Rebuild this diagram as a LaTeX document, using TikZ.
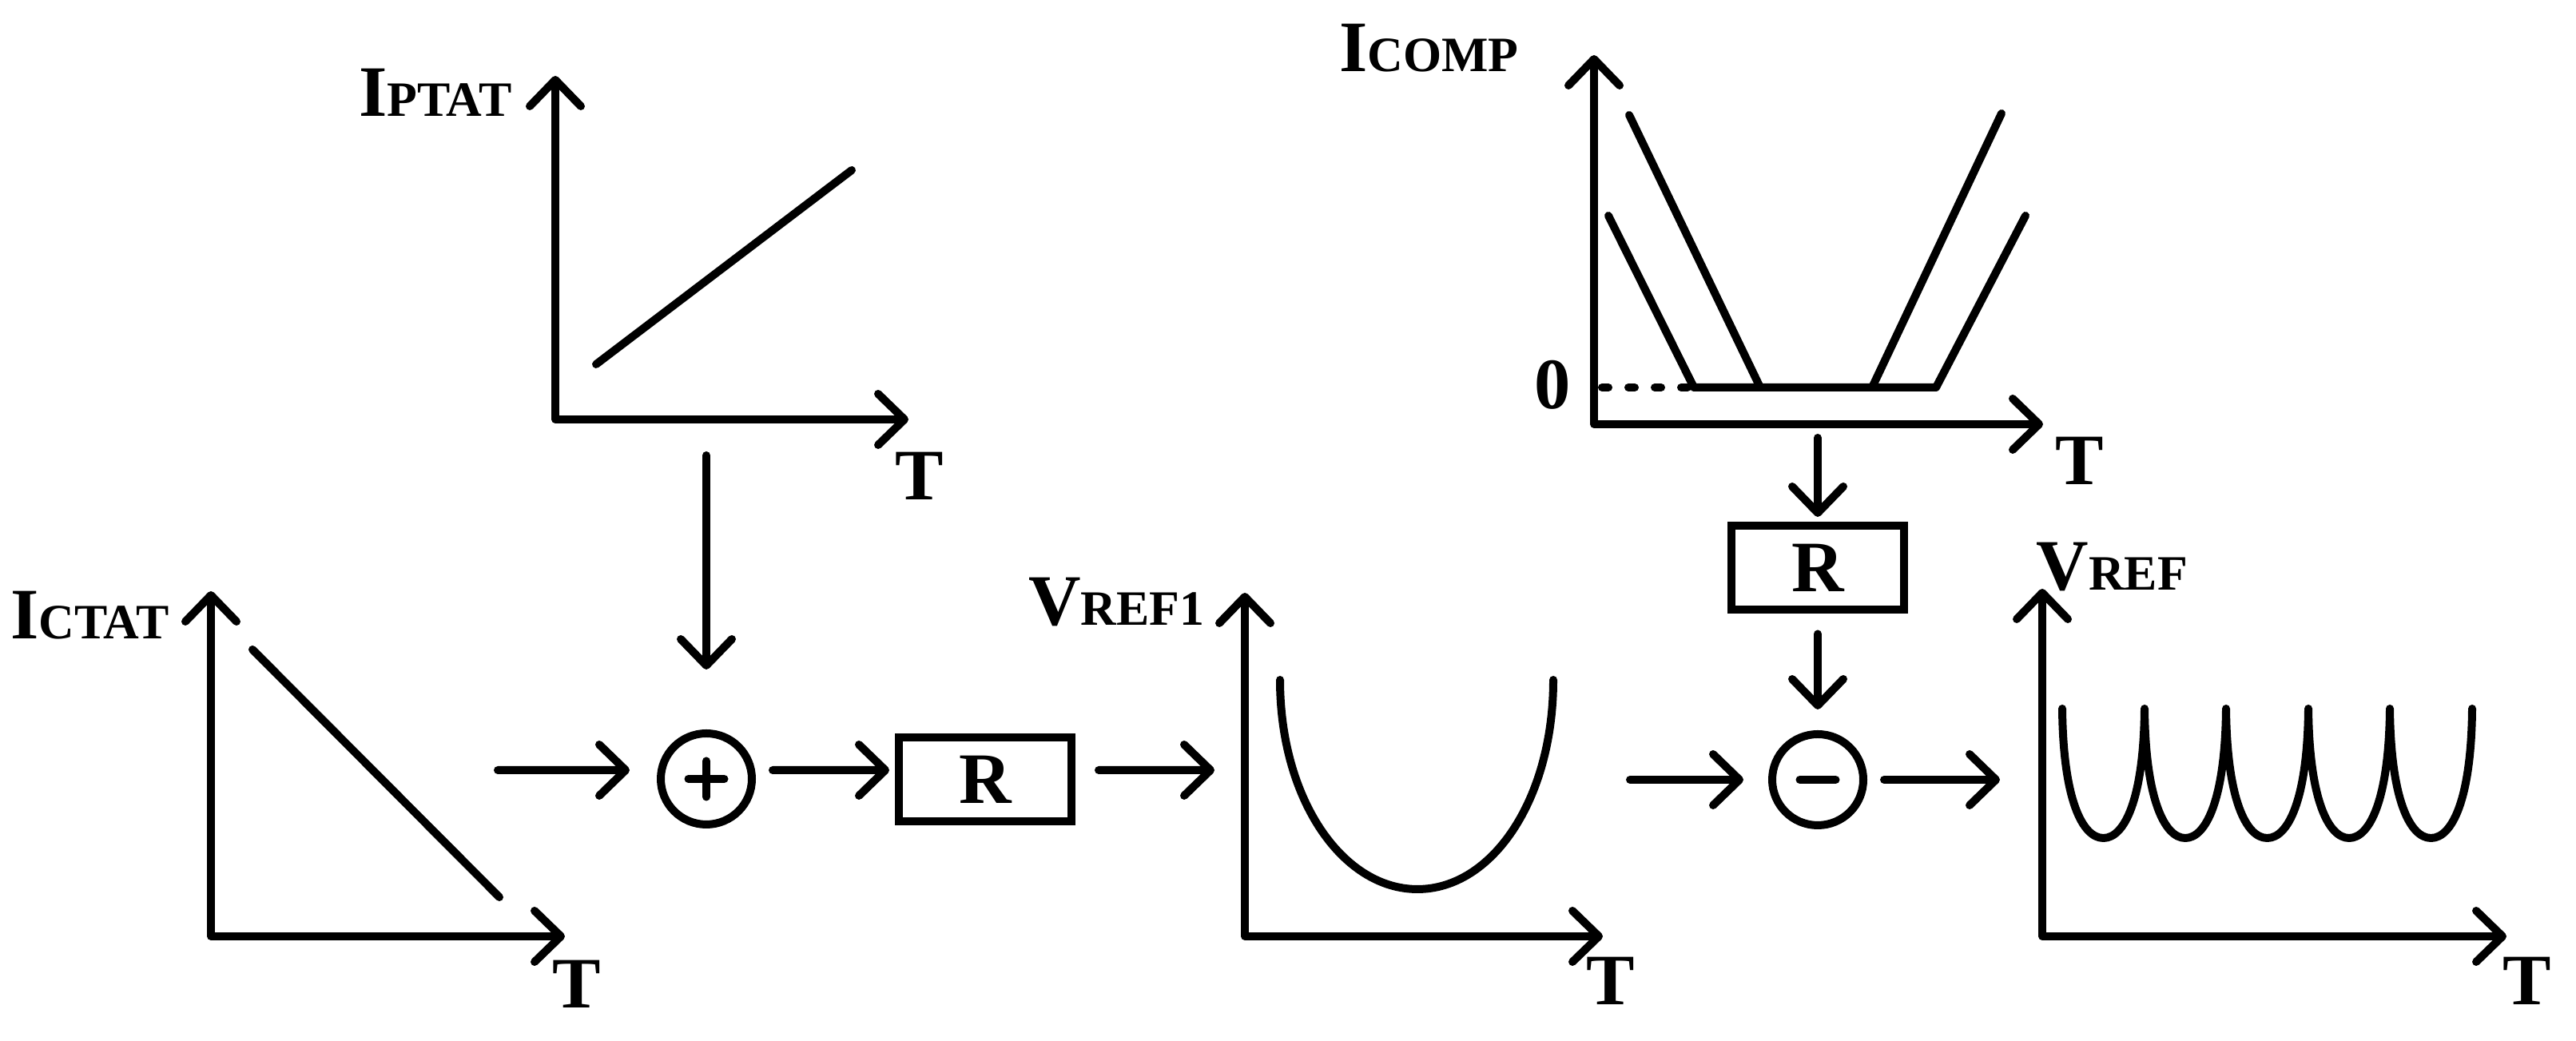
\documentclass[tikz,border=0pt]{standalone}
\usepackage{fontspec}
\setmainfont{Liberation Serif}
\usetikzlibrary{arrows.meta, positioning}
\newcommand\bigtxt{\fontsize{25.8}{30}\selectfont\bfseries}
\newcommand\subtxt{\fontsize{17.6}{20}\selectfont\bfseries}
\tikzset{
    axisline/.style={line width=1mm, line join=round, line cap=round,
        {Straight Barb[length=3.3mm, width=6.4mm, round]}-{Straight Barb[length=3.3mm, width=6.4mm, round]}},
    plotline/.style={line width=1mm, line cap=round, line join=round},
    flow/.style={line width=1mm, line cap=round, -{Straight Barb[length=3.3mm, width=6.4mm, round]}},
    signline/.style={line width=1mm, line cap=round},
    sumnode/.style={circle, draw, line width=1mm, minimum size=11.4mm, inner sep=0pt, outer sep=0pt},
    rbox/.style={rectangle, draw, line width=1mm, minimum width=21.6mm, minimum height=10.5mm,
        inner sep=0pt, outer sep=0pt, font=\bigtxt},
    ylab/.style={inner sep=0pt, font=\bigtxt},
    tlab/.style={inner sep=0pt, font=\bigtxt}
}

\begin{document}
\begin{tikzpicture}
    \useasboundingbox (0,0) rectangle (32.24,13.03);

    % I_PTAT
    \draw[axisline] (6.95,12.08) -- (6.95,7.78) -- (11.37,7.78);
    \draw[plotline] (7.46,8.47) -- (10.66,10.90);
    \node[ylab, anchor=base east] (ptatlab) at (6.41,11.57) {I{\subtxt PTAT}};
    \node[tlab] (ptatT) at (11.51,7.07) {T};

    % I_CTAT
    \draw[axisline] (2.64,5.63) -- (2.64,1.31) -- (7.07,1.31);
    \draw[plotline] (3.16,4.90) -- (6.25,1.80);
    \node[ylab, anchor=base east] (ctatlab) at (2.12,5.03) {I{\subtxt CTAT}};
    \node[tlab] (ctatT) at (7.22,0.71) {T};

    % V_REF1
    \draw[axisline] (15.58,5.61) -- (15.58,1.31) -- (20.06,1.31);
    \draw[plotline] (16.02,4.52) .. controls (16.02,3.03) and (16.80,1.90) .. (17.74,1.90)
        .. controls (18.68,1.90) and (19.44,3.03) .. (19.44,4.52);
    \node[ylab, anchor=base east] (vrefonelab) at (15.08,5.20) {V{\subtxt REF1}};
    \node[tlab] (vrefoneT) at (20.16,0.75) {T};

    % I_COMP
    \draw[axisline] (19.95,12.34) -- (19.95,7.72) -- (25.57,7.72);
    \draw[plotline, dash pattern=on 0.8mm off 2.5mm] (20.05,8.18) -- (21.20,8.18);
    \draw[plotline] (20.13,10.33) -- (21.20,8.18) -- (24.23,8.18) -- (25.35,10.33);
    \draw[plotline] (20.39,11.59) -- (22.03,8.18);
    \draw[plotline] (23.43,8.18) -- (25.05,11.61);
    \node[tlab] (zero) at (19.43,8.21) {0};
    \node[ylab, anchor=base east] (complab) at (19.01,12.13) {I{\subtxt COMP}};
    \node[tlab] (compT) at (26.03,7.26) {T};

    % V_REF
    \draw[axisline] (25.56,5.66) -- (25.56,1.31) -- (31.37,1.31);
    \draw[plotline] (25.81,4.16)
        .. controls (25.82,3.03) and (26.06,2.54) .. (26.325,2.54)
        .. controls (26.59,2.54) and (26.83,3.03) .. (26.84,4.16)
        .. controls (26.85,3.03) and (27.09,2.54) .. (27.35,2.54)
        .. controls (27.61,2.54) and (27.85,3.03) .. (27.86,4.16)
        .. controls (27.87,3.03) and (28.11,2.54) .. (28.375,2.54)
        .. controls (28.64,2.54) and (28.88,3.03) .. (28.89,4.16)
        .. controls (28.90,3.03) and (29.14,2.54) .. (29.40,2.54)
        .. controls (29.66,2.54) and (29.90,3.03) .. (29.91,4.16)
        .. controls (29.92,3.03) and (30.16,2.54) .. (30.425,2.54)
        .. controls (30.69,2.54) and (30.93,3.03) .. (30.94,4.16);
    \node[ylab, anchor=base west] (vreflab) at (25.48,5.64) {V{\subtxt REF}};
    \node[tlab] (vrefT) at (31.63,0.75) {T};

    % blocks
    \node[sumnode] (plus) at (8.84,3.28) {};
    \draw[signline] ([xshift=-2.25mm]plus.center) -- ([xshift=2.25mm]plus.center);
    \draw[signline] ([yshift=-2.25mm]plus.center) -- ([yshift=2.25mm]plus.center);
    \node[rbox] (rone) at (12.33,3.275) {R};

    \node[sumnode] (minus) at (22.75,3.27) {};
    \draw[signline] ([xshift=-2.25mm]minus.center) -- ([xshift=2.25mm]minus.center);
    \node[rbox] (rtwo) at (22.75,5.92) {R};

    \coordinate (ctatout) at (6.23,3.39);
    \coordinate (ptatout) at (8.84,7.33);
    \coordinate (vrefonein) at (15.20,3.39);
    \coordinate (vrefoneout) at (20.40,3.27);
    \coordinate (vrefin) at (25.03,3.27);
    \coordinate (compout) at (22.75,7.55);

    \draw[flow, shorten >=3.9mm] (ctatout) -- ([yshift=1.1mm]plus.west);
    \draw[flow, shorten >=8mm] (ptatout) -- (plus.north);
    \draw[flow, shorten <=2.6mm, shorten >=1.2mm] ([yshift=1.1mm]plus.east) -- ([yshift=1.15mm]rone.west);
    \draw[flow, shorten <=3.4mm] ([yshift=1.15mm]rone.east) -- (vrefonein);
    \draw[flow, shorten >=3.6mm] (vrefoneout) -- (minus.west);
    \draw[flow, shorten <=2.6mm] (minus.east) -- (vrefin);
    \draw[flow, shorten >=1.15mm] (compout) -- (rtwo.north);
    \draw[flow, shorten <=3mm, shorten >=3.1mm] (rtwo.south) -- (minus.north);

\end{tikzpicture}
\end{document}
